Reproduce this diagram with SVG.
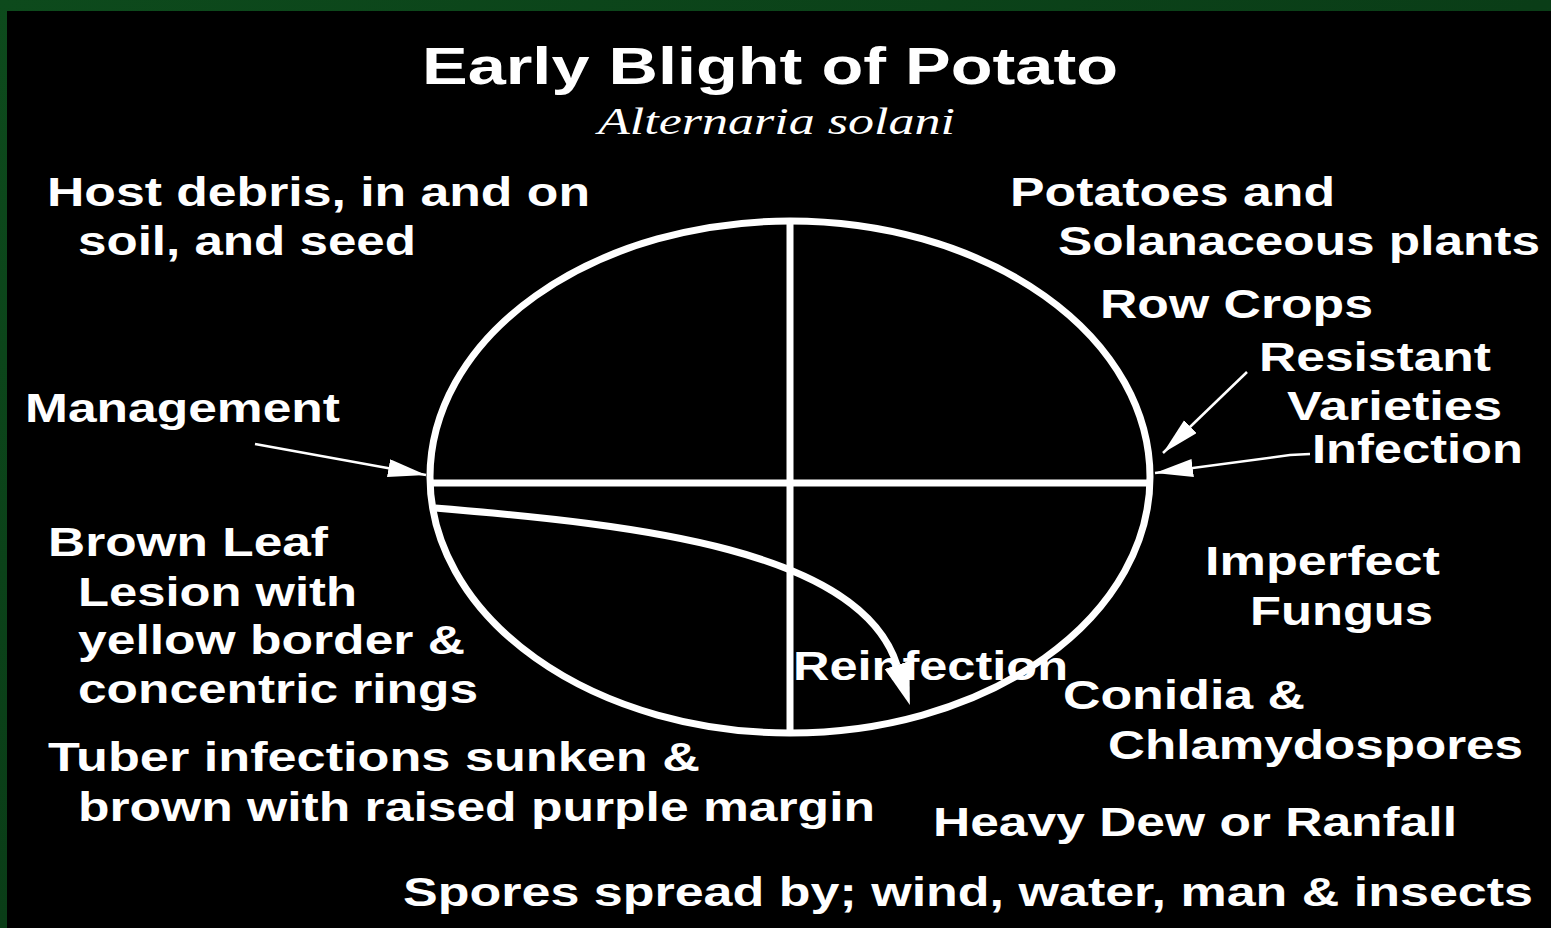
<svg xmlns="http://www.w3.org/2000/svg" width="1551" height="928" viewBox="0 0 1551 928">
<defs>
<style>
.t{font-family:"Liberation Sans",Arial,sans-serif;font-weight:bold;font-size:40px;fill:#fff}
.title{font-size:52px}
.sub{font-family:"Liberation Serif","Times New Roman",serif;font-style:italic;font-weight:normal;font-size:37px;fill:#fff}
.thick{fill:none;stroke:#fff;stroke-width:7}
.thin{fill:none;stroke:#fff;stroke-width:2.5}
</style>
<marker id="ah" markerUnits="userSpaceOnUse" markerWidth="40" markerHeight="20" refX="38" refY="9" orient="auto">
<path d="M0,0 L38,9 L0,18 z" fill="#fff"/>
</marker>
<marker id="bh" markerUnits="userSpaceOnUse" markerWidth="44" markerHeight="30" refX="0" refY="13" orient="auto">
<path d="M0,0 L42,13 L0,26 z" fill="#fff"/>
</marker>
<linearGradient id="g" x1="0" y1="0" x2="1" y2="1">
<stop offset="0" stop-color="#0d4a1c"/>
<stop offset="0.5" stop-color="#0a3d17"/>
<stop offset="1" stop-color="#0e4f1e"/>
</linearGradient>
</defs>
<rect x="0" y="0" width="1551" height="928" fill="url(#g)"/>
<rect x="7" y="11" width="1544" height="917" fill="#000"/>

<g id="cycle">
<ellipse cx="790" cy="477" rx="360" ry="256" class="thick"/>
<line x1="790" y1="221" x2="790" y2="733" class="thick"/>
<line x1="430" y1="483" x2="1150" y2="483" class="thick"/>
</g>

<g id="connectors">
<path d="M435,508 C640,525 860,550 897,665" class="thick" marker-end="url(#bh)"/>
<line x1="255" y1="444" x2="426" y2="475" class="thin" marker-end="url(#ah)"/>
<line x1="1247" y1="372" x2="1163" y2="453" class="thin" marker-end="url(#ah)"/>
<polyline points="1310,454 1290,455 1155,473" class="thin" marker-end="url(#ah)"/>
</g>

<g id="title">
<text class="t title" x="422" y="84" textLength="696" lengthAdjust="spacingAndGlyphs">Early Blight of Potato</text>
<text class="sub" x="598" y="134" textLength="357" lengthAdjust="spacingAndGlyphs">Alternaria solani</text>
</g>

<g id="n-host"><text class="t" x="47" y="206" textLength="543" lengthAdjust="spacingAndGlyphs">Host debris, in and on</text>
<text class="t" x="78" y="255" textLength="338" lengthAdjust="spacingAndGlyphs">soil, and seed</text></g>

<g id="n-potatoes"><text class="t" x="1010" y="206" textLength="325" lengthAdjust="spacingAndGlyphs">Potatoes and</text>
<text class="t" x="1058" y="255" textLength="482" lengthAdjust="spacingAndGlyphs">Solanaceous plants</text></g>

<g id="n-row"><text class="t" x="1100" y="318" textLength="273" lengthAdjust="spacingAndGlyphs">Row Crops</text></g>

<g id="n-resistant"><text class="t" x="1259" y="371" textLength="232" lengthAdjust="spacingAndGlyphs">Resistant</text>
<text class="t" x="1287" y="420" textLength="215" lengthAdjust="spacingAndGlyphs">Varieties</text></g>

<g id="n-infection"><text class="t" x="1312" y="463" textLength="211" lengthAdjust="spacingAndGlyphs">Infection</text></g>

<g id="n-management"><text class="t" x="25" y="422" textLength="315" lengthAdjust="spacingAndGlyphs">Management</text></g>

<g id="n-symptoms"><text class="t" x="48" y="556" textLength="280" lengthAdjust="spacingAndGlyphs">Brown Leaf</text>
<text class="t" x="78" y="606" textLength="279" lengthAdjust="spacingAndGlyphs">Lesion with</text>
<text class="t" x="78" y="654" textLength="387" lengthAdjust="spacingAndGlyphs">yellow border &amp;</text>
<text class="t" x="78" y="703" textLength="400" lengthAdjust="spacingAndGlyphs">concentric rings</text>
<text class="t" x="48" y="771" textLength="652" lengthAdjust="spacingAndGlyphs">Tuber infections sunken &amp;</text>
<text class="t" x="78" y="821" textLength="797" lengthAdjust="spacingAndGlyphs">brown with raised purple margin</text></g>

<g id="n-imperfect"><text class="t" x="1205" y="575" textLength="235" lengthAdjust="spacingAndGlyphs">Imperfect</text>
<text class="t" x="1250" y="625" textLength="183" lengthAdjust="spacingAndGlyphs">Fungus</text></g>

<g id="n-reinfection"><text class="t" x="793" y="680" textLength="275" lengthAdjust="spacingAndGlyphs">Reinfection</text></g>

<g id="n-conidia"><text class="t" x="1063" y="709" textLength="242" lengthAdjust="spacingAndGlyphs">Conidia &amp;</text>
<text class="t" x="1108" y="759" textLength="415" lengthAdjust="spacingAndGlyphs">Chlamydospores</text></g>

<g id="n-dew"><text class="t" x="933" y="836" textLength="524" lengthAdjust="spacingAndGlyphs">Heavy Dew or Ranfall</text></g>

<g id="n-spores"><text class="t" x="403" y="906" textLength="1130" lengthAdjust="spacingAndGlyphs">Spores spread by; wind, water, man &amp; insects</text></g>
</svg>
